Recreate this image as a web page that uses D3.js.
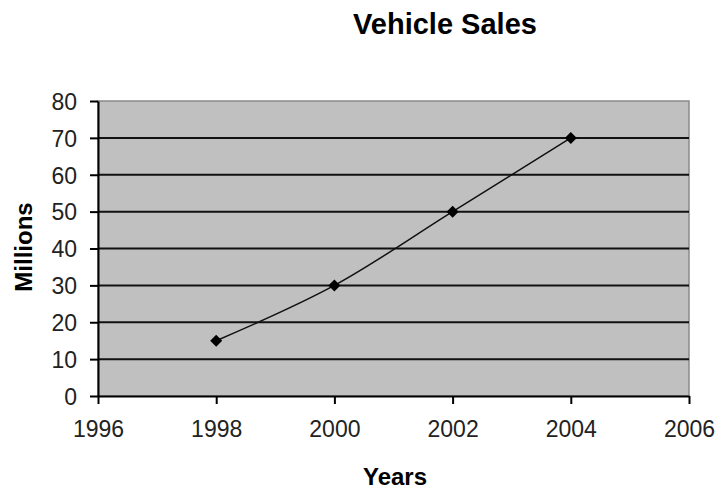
<!DOCTYPE html>
<html>
<head>
    <meta charset="utf-8">
    <style>
        body { margin: 0; background: #fff; }
        svg { font-family: Arial, 'Liberation Sans', sans-serif; }
        .tick text { font-size: 23px; fill: #222; }
        .domain { stroke: #000; stroke-width: 2px; }
        .tick line { stroke: #000; stroke-width: 2px; }
    </style>
</head>
<body>
<svg width="719" height="490"></svg>
<script src="https://d3js.org/d3.v7.min.js"></script>
<script>
    // data
    let years = [1998, 2000, 2002, 2004]
    let sales = [15, 30, 50, 70]
    let xTicks = [1996, 1998, 2000, 2002, 2004, 2006]
    let yTicks = [0, 10, 20, 30, 40, 50, 60, 70, 80]

    let data = years.map((y, i) => ({ year: y, value: sales[i] }))

    let margin = { top: 101, right: 30, bottom: 94, left: 98 }
    let width = 719, height = 490

    let svg = d3.select("svg")

    let x = d3.scaleLinear()
        .domain([1996, 2006])
        .range([margin.left, width - margin.right])

    let y = d3.scaleLinear()
        .domain([0, 80])
        .range([height - margin.bottom, margin.top])

    // plot area
    svg.append("rect")
        .attr("x", x(1996))
        .attr("y", y(80))
        .attr("width", x(2006) - x(1996))
        .attr("height", y(0) - y(80))
        .style("fill", "#c0c0c0")
        .style("stroke", "#8a8a8a")
        .style("stroke-width", "1.5px")

    // gridlines
    svg.append("g")
        .selectAll("line")
        .data(yTicks.filter(d => d > 0 && d < 80))
        .join("line")
        .attr("x1", x(1996))
        .attr("x2", x(2006))
        .attr("y1", d => y(d))
        .attr("y2", d => y(d))
        .style("stroke", "#111")
        .style("stroke-width", "2px")

    let yAxis = d3.axisLeft(y)
        .tickValues(yTicks)
        .tickSize(8)
        .tickPadding(13)
        .tickSizeOuter(0)

    let xAxis = d3.axisBottom(x)
        .tickValues(xTicks)
        .tickFormat(d3.format("d"))
        .tickSize(8)
        .tickPadding(17)
        .tickSizeOuter(0)

    svg.append("g")
        .attr("class", "y axis")
        .attr("transform", `translate(${margin.left},0)`)
        .call(yAxis)
        .call(g => g.selectAll(".tick text").attr("dy", "0.36em"))

    svg.append("g")
        .attr("class", "x axis")
        .attr("transform", `translate(0,${y(0)})`)
        .call(xAxis)

    // smoothed line like excel
    let line = d3.line()
        .x(d => x(d.year))
        .y(d => y(d.value))
        .curve(d3.curveCatmullRom.alpha(0.5))

    svg.append("path")
        .datum(data)
        .attr("d", line)
        .style("fill", "none")
        .style("stroke", "#111")
        .style("stroke-width", "1.5px")

    svg.append("g")
        .selectAll("path")
        .data(data)
        .join("path")
        .attr("transform", d => `translate(${x(d.year)},${y(d.value)})`)
        .attr("d", "M0,-6L6,0L0,6L-6,0Z")
        .style("fill", "#000")

    // titles
    svg.append("text")
        .attr("x", 445)
        .attr("y", 34)
        .attr("text-anchor", "middle")
        .style("font-size", "29px")
        .style("font-weight", "bold")
        .text("Vehicle Sales")

    svg.append("text")
        .attr("x", 395)
        .attr("y", 485)
        .attr("text-anchor", "middle")
        .style("font-size", "24px")
        .style("font-weight", "bold")
        .text("Years")

    svg.append("text")
        .attr("transform", "translate(32,247) rotate(-90)")
        .attr("text-anchor", "middle")
        .style("font-size", "24px")
        .style("font-weight", "bold")
        .text("Millions")
</script>
</body>
</html>
